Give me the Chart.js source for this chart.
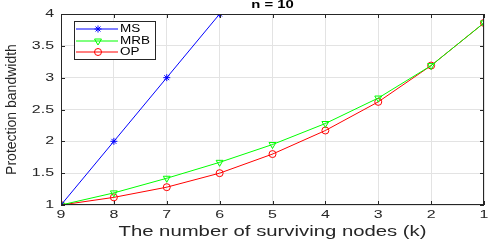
<!DOCTYPE html>
<html>
<head>
<meta charset="utf-8">
<script src="https://cdn.jsdelivr.net/npm/chart.js@4/dist/chart.umd.min.js"></script>
<style>
  html, body { margin: 0; padding: 0; background: #fff; }
  #wrap { width: 489px; height: 249px; position: relative; }
</style>
</head>
<body>
<div id="wrap"><canvas id="chart"></canvas></div>
<script>
// surviving nodes k (axis runs 9 -> 1)
const nodes = [9, 8, 7, 6, 5, 4, 3, 2, 1];
const msValues = [1, 2, 3, 4];
const mrbValues = [1, 1.19, 1.42, 1.67, 1.95, 2.28, 2.68, 3.19, 3.86];
const opValues = [1, 1.12, 1.28, 1.5, 1.8, 2.17, 2.62, 3.19, 3.86];
const yTicks = [1, 1.5, 2, 2.5, 3, 3.5, 4];
const chartTitle = 'n = 10';
const xTitle = 'The number of surviving nodes (k)';
const yTitle = 'Protection bandwidth';

const toPoints = vals => vals.map((v, i) => ({ x: nodes[i], y: v }));

const series = [
    { label: 'MS', data: toPoints(msValues), color: '#0000ff', style: 'star', rot: 0, r: 3.5 },
    { label: 'MRB', data: toPoints(mrbValues), color: '#00ff00', style: 'triangle', rot: 180, r: 4 },
    { label: 'OP', data: toPoints(opValues), color: '#ff0000', style: 'circle', rot: 0, r: 3.5 }
];

const FONT = '"Liberation Sans", Arial, sans-serif';
const STRETCH = 1.45; // the figure text looks widened

function wideText(ctx, txt, x, y, align, font, sx) {
    ctx.save();
    ctx.translate(x, y);
    ctx.scale(sx, 1);
    ctx.font = font;
    ctx.textAlign = align;
    ctx.textBaseline = 'middle';
    ctx.fillText(txt, 0, 0);
    ctx.restore();
}

// box, inner ticks, labels, title and legend drawn like the MATLAB figure
const frame = {
    id: 'frame',
    afterDraw(chart) {
        const { ctx, chartArea: a, scales } = chart;
        ctx.save();
        ctx.strokeStyle = '#262626';
        ctx.lineWidth = 1;
        ctx.strokeRect(a.left + 0.5, a.top + 0.5, a.right - a.left - 1, a.bottom - a.top - 1);
        ctx.beginPath();
        nodes.forEach(n => {
            const x = Math.round(scales.x.getPixelForValue(n)) + 0.5;
            ctx.moveTo(x, a.bottom); ctx.lineTo(x, a.bottom - 4);
            ctx.moveTo(x, a.top); ctx.lineTo(x, a.top + 4);
        });
        yTicks.forEach(t => {
            const y = Math.round(scales.y.getPixelForValue(t)) + 0.5;
            ctx.moveTo(a.left, y); ctx.lineTo(a.left + 4, y);
            ctx.moveTo(a.right, y); ctx.lineTo(a.right - 4, y);
        });
        ctx.stroke();

        ctx.fillStyle = '#262626';
        nodes.forEach(n => {
            wideText(ctx, String(n), scales.x.getPixelForValue(n), a.bottom + 10, 'center', '11px ' + FONT, STRETCH);
        });
        yTicks.forEach(t => {
            wideText(ctx, String(t), a.left - 7, scales.y.getPixelForValue(t), 'right', '11px ' + FONT, STRETCH);
        });
        wideText(ctx, xTitle, (a.left + a.right) / 2, 232, 'center', '14px ' + FONT, STRETCH);

        // rotated y title
        ctx.save();
        ctx.translate(12, (a.top + a.bottom) / 2);
        ctx.rotate(-Math.PI / 2);
        ctx.font = '14px ' + FONT;
        ctx.textAlign = 'center';
        ctx.textBaseline = 'middle';
        ctx.fillText(yTitle, 0, 0);
        ctx.restore();

        // title
        ctx.fillStyle = '#000';
        wideText(ctx, chartTitle, (a.left + a.right) / 2, 5, 'center', 'bold 11px ' + FONT, 1.35);

        // legend
        const lx = 74, ly = 21, lw = 81, lh = 38;
        const rows = [29, 41, 52];
        ctx.fillStyle = '#fff';
        ctx.fillRect(lx, ly, lw, lh);
        ctx.strokeStyle = '#262626';
        ctx.strokeRect(lx + 0.5, ly + 0.5, lw, lh);
        series.forEach((s, i) => {
            const y = rows[i];
            ctx.strokeStyle = s.color;
            ctx.lineWidth = 1;
            ctx.beginPath();
            ctx.moveTo(lx + 2, y); ctx.lineTo(lx + 44, y);
            ctx.stroke();
            ctx.fillStyle = 'rgba(0,0,0,0)';
            Chart.helpers.drawPoint(ctx, { pointStyle: s.style, rotation: s.rot, radius: s.r, borderWidth: 1 }, lx + 24, y);
            ctx.fillStyle = '#000';
            wideText(ctx, s.label, lx + 46, y + 0.5, 'left', '10px ' + FONT, 1.35);
        });
        ctx.restore();
    }
};

new Chart(document.getElementById('chart'), {
    type: 'line',
    data: {
        datasets: series.map(s => ({
            label: s.label,
            data: s.data,
            borderColor: s.color,
            backgroundColor: 'rgba(0,0,0,0)',
            pointBorderColor: s.color,
            pointBackgroundColor: 'rgba(0,0,0,0)',
            pointStyle: s.style,
            rotation: s.rot,
            pointRadius: s.r,
            pointBorderWidth: 1,
            borderWidth: 1,
            tension: 0
        }))
    },
    options: {
        responsive: true,
        maintainAspectRatio: false,
        animation: false,
        layout: { padding: { top: 14, right: 3, left: 0, bottom: 0 } },
        plugins: { legend: { display: false }, tooltip: { enabled: false } },
        scales: {
            x: {
                type: 'linear',
                reverse: true,
                min: 1, max: 9,
                afterBuildTicks: s => { s.ticks = nodes.map(v => ({ value: v })); },
                afterFit: s => { s.height = 44; },
                grid: { color: '#e3e3e3', drawTicks: false },
                border: { display: false },
                ticks: { display: false }
            },
            y: {
                min: 1, max: 4,
                afterBuildTicks: s => { s.ticks = yTicks.map(v => ({ value: v })); },
                afterFit: s => { s.width = 61; },
                grid: { color: '#e3e3e3', drawTicks: false },
                border: { display: false },
                ticks: { display: false }
            }
        }
    },
    plugins: [frame]
});
</script>
</body>
</html>
